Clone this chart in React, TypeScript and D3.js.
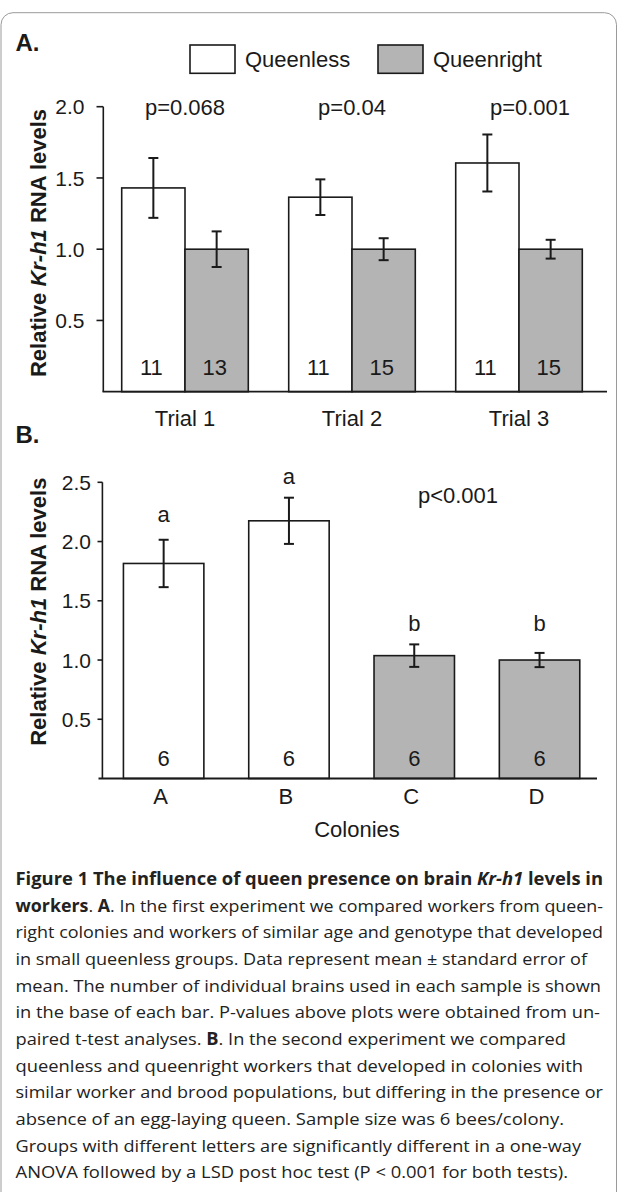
import React from "react";
import * as d3 from "d3";

// ---------- Data: panel A ----------
const trials = ["Trial 1", "Trial 2", "Trial 3"];
const groups = ["Queenless", "Queenright"];
const queenlessMean = [1.43, 1.365, 1.605];
const queenlessSE = [0.21, 0.125, 0.2];
const queenrightMean = [1.0, 1.0, 1.0];
const queenrightSE = [0.125, 0.077, 0.066];
const queenlessN = [11, 11, 11];
const queenrightN = [13, 15, 15];
const trialP = ["p=0.068", "p=0.04", "p=0.001"];
const ticksA = [0.5, 1.0, 1.5, 2.0];

// ---------- Data: panel B ----------
const colonies = ["A", "B", "C", "D"];
const colonyMean = [1.815, 2.175, 1.037, 1.0];
const colonySE = [0.2, 0.195, 0.095, 0.06];
const colonyN = [6, 6, 6, 6];
const colonyStatus = ["Queenless", "Queenless", "Queenright", "Queenright"];
const colonyLetters = ["a", "a", "b", "b"];
const colonyLetterAt = [2.167, 2.483, 1.247, 1.247];
const ticksB = [0.5, 1.0, 1.5, 2.0, 2.5];
const colonyP = "p<0.001";

// ---------- Caption ----------
type Seg = { t: string; b?: boolean; i?: boolean };
const captionLines: Seg[][] = [
  [{ t: "Figure 1 The influence of queen presence on brain ", b: true }, { t: "Kr-h1", b: true, i: true }, { t: " levels in", b: true }],
  [{ t: "workers", b: true }, { t: ". " }, { t: "A", b: true }, { t: ". In the first experiment we compared workers from queen-" }],
  [{ t: "right colonies and workers of similar age and genotype that developed" }],
  [{ t: "in small queenless groups. Data represent mean \u00b1 standard error of" }],
  [{ t: "mean. The number of individual brains used in each sample is shown" }],
  [{ t: "in the base of each bar. P-values above plots were obtained from un-" }],
  [{ t: "paired t-test analyses. " }, { t: "B", b: true }, { t: ". In the second experiment we compared" }],
  [{ t: "queenless and queenright workers that developed in colonies with" }],
  [{ t: "similar worker and brood populations, but differing in the presence or" }],
  [{ t: "absence of an egg-laying queen. Sample size was 6 bees/colony." }],
  [{ t: "Groups with different letters are significantly different in a one-way" }],
  [{ t: "ANOVA followed by a LSD post hoc test (P < 0.001 for both tests)." }],
];
// layout: right end of each caption line (px)
const captionLineEnds = [603, 603, 603, 587, 601, 600, 566, 583, 603, 564, 581, 568];

const W = 618;
const H = 1192;
const FONT = "'Liberation Sans', Arial, Helvetica, sans-serif";
const CAPFONT = "'Open Sans', 'Noto Sans', sans-serif";
const INK = "#1a1a1a";
const GRAY = "#b4b4b4";
const fillFor = (g: string) => (g === "Queenless" ? "#ffffff" : GRAY);

function YTitle({ x, y }: { x: number; y: number }) {
  return (
    <text
      transform={`translate(${x},${y}) rotate(-90)`}
      textAnchor="middle"
      fontFamily={FONT}
      fontWeight="bold"
      fontSize={22}
      fill={INK}
    >
      Relative <tspan fontStyle="italic">Kr-h1</tspan> RNA levels
    </text>
  );
}

function ErrorBar({ x, y1, y2 }: { x: number; y1: number; y2: number }) {
  const c = 5;
  return (
    <g stroke={INK} strokeWidth={2} fill="none">
      <line x1={x} x2={x} y1={y1} y2={y2} />
      <line x1={x - c} x2={x + c} y1={y1} y2={y1} />
      <line x1={x - c} x2={x + c} y1={y2} y2={y2} />
    </g>
  );
}

function PanelA() {
  const y = d3.scaleLinear().domain([0, 2]).range([391.7, 106.7]);
  const x0 = d3
    .scaleBand<string>()
    .domain(trials)
    .range([101.5, 602.5])
    .paddingInner(0.242)
    .paddingOuter(0.121);
  const x1 = d3.scaleBand<string>().domain(groups).range([0, x0.bandwidth()]);
  const fmt = d3.format(".1f");
  const pOffset = [0, 0, 11];

  const bars = trials.flatMap((t, i) => [
    { t, g: "Queenless", m: queenlessMean[i], se: queenlessSE[i], n: queenlessN[i] },
    { t, g: "Queenright", m: queenrightMean[i], se: queenrightSE[i], n: queenrightN[i] },
  ]);

  return (
    <g>
      <text x={15.5} y={50.5} fontFamily={FONT} fontWeight="bold" fontSize={24} fill={INK}>
        A.
      </text>
      {/* legend */}
      {groups.map((g, i) => {
        const lx = [190, 378][i];
        return (
          <g key={g}>
            <rect x={lx} y={45} width={45} height={28.3} fill={fillFor(g)} stroke={INK} strokeWidth={1.6} />
            <text x={lx + 55} y={66.7} fontFamily={FONT} fontSize={22} fill={INK}>
              {g}
            </text>
          </g>
        );
      })}
      <YTitle x={45.5} y={243} />
      {/* bars */}
      {bars.map((b, i) => {
        const bx = (x0(b.t) as number) + (x1(b.g) as number);
        const cx = bx + x1.bandwidth() / 2;
        return (
          <g key={i}>
            <rect
              x={bx}
              y={y(b.m)}
              width={x1.bandwidth()}
              height={y(0) - y(b.m)}
              fill={fillFor(b.g)}
              stroke={INK}
              strokeWidth={1.6}
            />
            <ErrorBar x={cx} y1={y(b.m + b.se)} y2={y(b.m - b.se)} />
            <text x={cx - 2} y={374.5} textAnchor="middle" fontFamily={FONT} fontSize={22} fill={INK}>
              {b.n}
            </text>
          </g>
        );
      })}
      {/* p-values */}
      {trials.map((t, i) => (
        <text
          key={t}
          x={(x0(t) as number) + x0.bandwidth() / 2 + pOffset[i]}
          y={115}
          textAnchor="middle"
          fontFamily={FONT}
          fontSize={22}
          fill={INK}
        >
          {trialP[i]}
        </text>
      ))}
      {/* axes */}
      <line x1={103.3} x2={103.3} y1={y(2)} y2={y(0)} stroke={INK} strokeWidth={1.6} />
      <line x1={102.5} x2={607} y1={y(0)} y2={y(0)} stroke={INK} strokeWidth={1.8} />
      {ticksA.map((v) => (
        <g key={v}>
          <line x1={96.5} x2={103.3} y1={y(v)} y2={y(v)} stroke={INK} strokeWidth={1.6} />
          <text x={84.5} y={y(v)} dy="0.36em" textAnchor="end" fontFamily={FONT} fontSize={21} fill={INK}>
            {fmt(v)}
          </text>
        </g>
      ))}
      {trials.map((t) => (
        <text
          key={t}
          x={(x0(t) as number) + x0.bandwidth() / 2}
          y={426}
          textAnchor="middle"
          fontFamily={FONT}
          fontSize={22}
          fill={INK}
        >
          {t}
        </text>
      ))}
    </g>
  );
}

function PanelB() {
  const y = d3.scaleLinear().domain([0, 2.5]).range([778.5, 482.3]);
  const x = d3
    .scaleBand<string>()
    .domain(colonies)
    .range([102.5, 600.7])
    .paddingInner(0.358)
    .paddingOuter(0.167);
  const fmt = d3.format(".1f");

  return (
    <g>
      <text x={15.5} y={442.5} fontFamily={FONT} fontWeight="bold" fontSize={24} fill={INK}>
        B.
      </text>
      <YTitle x={45.5} y={611.7} />
      {colonies.map((c, i) => {
        const bx = x(c) as number;
        const cx = bx + x.bandwidth() / 2;
        const m = colonyMean[i];
        const se = colonySE[i];
        return (
          <g key={c}>
            <rect
              x={bx}
              y={y(m)}
              width={x.bandwidth()}
              height={y(0) - y(m)}
              fill={fillFor(colonyStatus[i])}
              stroke={INK}
              strokeWidth={1.6}
            />
            <ErrorBar x={cx} y1={y(m + se)} y2={y(m - se)} />
            <text x={cx} y={765.7} textAnchor="middle" fontFamily={FONT} fontSize={22} fill={INK}>
              {colonyN[i]}
            </text>
            <text x={cx} y={y(colonyLetterAt[i])} textAnchor="middle" fontFamily={FONT} fontSize={22} fill={INK}>
              {colonyLetters[i]}
            </text>
            <text x={cx - 3} y={804.3} textAnchor="middle" fontFamily={FONT} fontSize={22} fill={INK}>
              {c}
            </text>
          </g>
        );
      })}
      <text x={458} y={503.3} textAnchor="middle" fontFamily={FONT} fontSize={22} fill={INK}>
        {colonyP}
      </text>
      <line x1={102.4} x2={102.4} y1={y(2.5)} y2={y(0)} stroke={INK} strokeWidth={1.6} />
      <line x1={98.5} x2={597} y1={y(0)} y2={y(0)} stroke={INK} strokeWidth={1.8} />
      {ticksB.map((v) => (
        <g key={v}>
          <line x1={97.5} x2={102.4} y1={y(v)} y2={y(v)} stroke={INK} strokeWidth={1.6} />
          <text x={91} y={y(v)} dy="0.36em" textAnchor="end" fontFamily={FONT} fontSize={21} fill={INK}>
            {fmt(v)}
          </text>
        </g>
      ))}
      <text x={357} y={836.7} textAnchor="middle" fontFamily={FONT} fontSize={22} fill={INK}>
        Colonies
      </text>
    </g>
  );
}

function Caption() {
  const left = 15.5;
  return (
    <g fontFamily={CAPFONT} fontSize={17} fill="#222">
      {captionLines.map((segs, i) => (
        <text
          key={i}
          x={left}
          y={885 + i * 26.65}
          textLength={captionLineEnds[i] - left}
          lengthAdjust="spacingAndGlyphs"
        >
          {segs.map((s, j) => (
            <tspan key={j} fontWeight={s.b ? "bold" : "normal"} fontStyle={s.i ? "italic" : "normal"}>
              {s.t}
            </tspan>
          ))}
        </text>
      ))}
    </g>
  );
}

export default function App() {
  return (
    <svg
      width={W}
      height={H}
      viewBox={`0 0 ${W} ${H}`}
      style={{ position: "absolute", left: 0, top: 0, background: "#fff" }}
    >
      <rect x={0} y={0} width={W} height={H} fill="#fff" />
      <rect x={1} y={12.7} width={615.5} height={H + 40} rx={12} ry={12} fill="none" stroke="#9a9a9a" strokeWidth={1} />
      <PanelA />
      <PanelB />
      <Caption />
    </svg>
  );
}
